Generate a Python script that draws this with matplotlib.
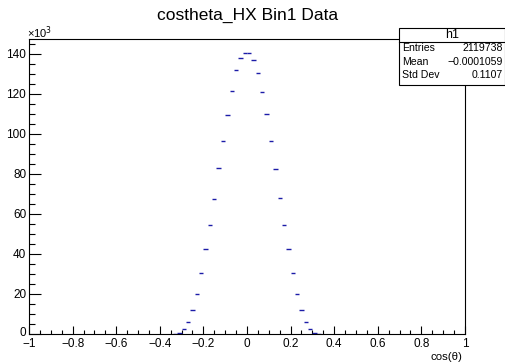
import matplotlib
matplotlib.use("Agg")
import matplotlib.pyplot as plt
from matplotlib.patches import Rectangle
from matplotlib.lines import Line2D
from matplotlib.transforms import ScaledTranslation
import numpy as np

plt.rcParams['font.family'] = ['Liberation Sans', 'DejaVu Sans']

# Histogram data (counts in thousands), bin width 0.02
bin_centers = [-0.33, -0.31, -0.29, -0.27, -0.25, -0.23, -0.21, -0.19, -0.17, -0.15, -0.13, -0.11,
               -0.09, -0.07, -0.05, -0.03, -0.01, 0.01, 0.03, 0.05, 0.07, 0.09, 0.11, 0.13,
               0.15, 0.17, 0.19, 0.21, 0.23, 0.25, 0.27, 0.29, 0.31, 0.33]
counts_k = [0.1, 0.7, 2.7, 6.2, 11.8, 20.2, 30.7, 42.3, 54.3, 67.7, 83.0, 96.5,
            109.3, 121.5, 131.8, 138.2, 140.4, 140.3, 137.0, 130.5, 120.8, 109.8, 96.5, 82.3,
            68.0, 54.5, 42.3, 30.5, 19.8, 11.8, 6.0, 2.7, 0.7, 0.1]
bin_width = 0.02

title = "costheta_HX Bin1 Data"
xlabel = "cos(θ)"
xticks = [-1, -0.8, -0.6, -0.4, -0.2, 0, 0.2, 0.4, 0.6, 0.8, 1]
xticklabels = ["\u22121", "\u22120.8", "\u22120.6", "\u22120.4", "\u22120.2", "0", "0.2", "0.4", "0.6", "0.8", "1"]
yticks = [0, 20, 40, 60, 80, 100, 120, 140]
stats_name = "h1"
stats_labels = ["Entries", "Mean", "Std Dev"]
stats_values = ["2119738", "\u22120.0001059", "0.1107"]

W, H = 506, 363
fig = plt.figure(figsize=(W / 100, H / 100), dpi=100)
fig.patch.set_facecolor('white')

L, R, T, B = 29, 465, 39, 334
ax = fig.add_axes([L / W, 1 - B / H, (R - L) / W, (B - T) / H])
ax.set_xlim(-1, 1)
ax.set_ylim(0, 147.5)

xc = np.array(bin_centers)
yc = np.array(counts_k)
ax.hlines(yc, xc - bin_width / 2, xc + bin_width / 2, colors='#1c1ca8', linewidth=1.0)

ax.set_xticks(xticks)
ax.set_xticklabels(xticklabels)
ax.set_yticks(yticks)
ax.set_yticklabels([str(v) for v in yticks])
ax.set_xticks(np.arange(-1, 1.0001, 0.05), minor=True)
ax.set_yticks(np.arange(0, 147.5, 5), minor=True)
ax.tick_params(axis='x', which='major', direction='in', length=6.0, width=0.8, labelsize=8.5, pad=3.2, top=False)
ax.tick_params(axis='x', which='minor', direction='in', length=3.2, width=0.8, top=False)
ax.tick_params(axis='y', which='major', direction='in', length=8.6, width=0.8, labelsize=8.5, pad=2, right=False)
ax.tick_params(axis='y', which='minor', direction='in', length=4.3, width=0.8, right=False)
for s in ax.spines.values():
    s.set_linewidth(0.8)

# nudge the y "0" label up slightly so it does not collide with the x "-1" label
ylab0 = ax.get_yticklabels()[0]
ylab0.set_transform(ylab0.get_transform() + ScaledTranslation(0, 2.0 / 100, fig.dpi_scale_trans))

fig.text(L / W - 0.004, 1 - 33 / H, "\u00d710$^3$", fontsize=8, ha='left', va='center')
fig.text(462 / W, 1 - 356.5 / H, xlabel, fontsize=8.2, ha='right', va='center')
fig.text(247.5 / W, 1 - 15 / H, title, fontsize=12.5, ha='center', va='center')

# Stats box
bx0, bx1, by0, by1, bsep = 399, 505, 28, 85, 42
fig.patches.append(Rectangle((bx0 / W, 1 - by1 / H), (bx1 - bx0) / W, (by1 - by0) / H,
                             transform=fig.transFigure, facecolor='white', edgecolor='black',
                             linewidth=0.8, zorder=5))
fig.lines.append(Line2D([bx0 / W, bx1 / W], [1 - bsep / H, 1 - bsep / H],
                        transform=fig.transFigure, color='black', linewidth=0.8, zorder=6))
fig.text((bx0 + bx1) / 2 / W, 1 - 35 / H, stats_name, fontsize=9, ha='center', va='center', zorder=7)
row_y = [48, 62, 75]
for lab, val, yy in zip(stats_labels, stats_values, row_y):
    fig.text(402 / W, 1 - yy / H, lab, fontsize=7.6, ha='left', va='center', zorder=7)
    fig.text(503 / W, 1 - yy / H, val, fontsize=7.6, ha='right', va='center', zorder=7)

fig.savefig("out.png", dpi=100)
